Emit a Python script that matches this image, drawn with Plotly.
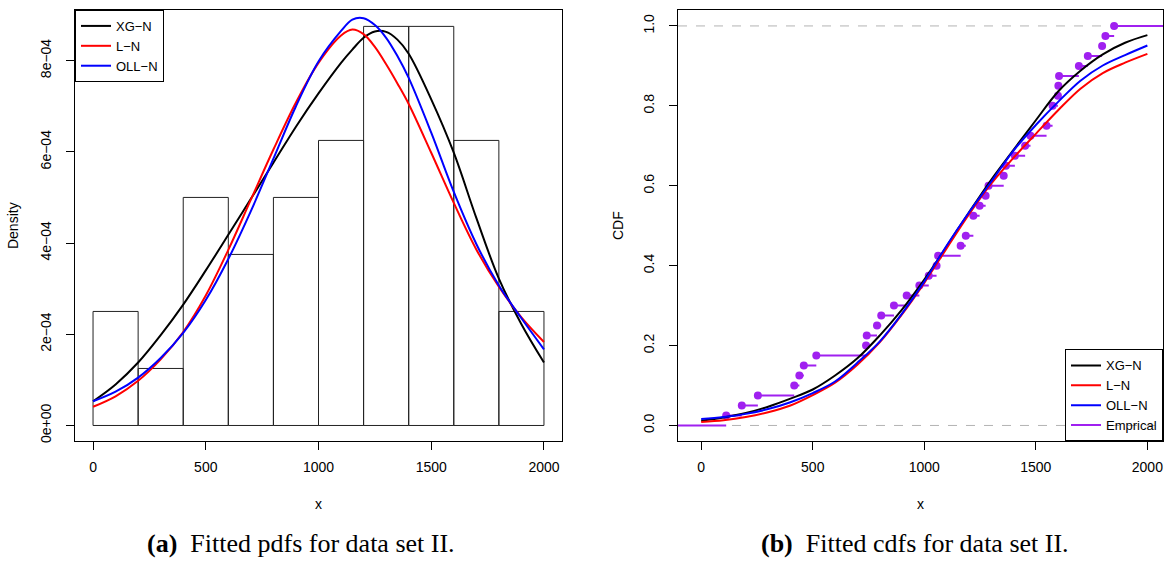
import numpy as np
import plotly.graph_objects as go
from plotly.subplots import make_subplots

# ---------------- data ----------------
# histogram (data set II), bins of width 200
bin_left = [0, 200, 400, 600, 800, 1000, 1200, 1400, 1600, 1800]
bin_width = 200
hist_density = [2.5e-4, 1.25e-4, 5.0e-4, 3.75e-4, 5.0e-4, 6.25e-4, 8.75e-4, 8.75e-4, 6.25e-4, 2.5e-4]

# fitted pdf curves, in units of 1e-4
pdf_x = [0, 100, 200, 300, 400, 500, 600, 700, 800, 900, 1000, 1100, 1150, 1200, 1250,
         1300, 1350, 1400, 1500, 1600, 1700, 1800, 1900, 2000]
pdf_xgn = [0.53, 0.90, 1.38, 1.98, 2.65, 3.40, 4.18, 4.97, 5.76, 6.55, 7.28, 7.95, 8.24, 8.50, 8.64,
           8.63, 8.46, 8.15, 7.15, 5.98, 4.55, 3.22, 2.22, 1.38]
pdf_ln = [0.41, 0.64, 0.98, 1.45, 2.05, 2.85, 3.85, 4.95, 6.05, 7.08, 7.95, 8.55, 8.68, 8.58, 8.30,
          7.92, 7.50, 7.05, 5.98, 4.88, 3.86, 3.04, 2.37, 1.83]
pdf_olln = [0.53, 0.74, 1.05, 1.48, 2.03, 2.75, 3.65, 4.70, 5.85, 7.00, 7.98, 8.65, 8.90, 8.93, 8.78,
            8.50, 8.10, 7.62, 6.42, 5.12, 3.98, 3.07, 2.35, 1.67]
pdf_scale = 1e-4

# fitted cdf curves
cdf_x = [0, 100, 200, 300, 400, 500, 600, 700, 800, 900, 1000, 1100, 1200, 1300, 1400,
         1500, 1600, 1700, 1800, 1900, 2000]
cdf_xgn = [0.012, 0.020, 0.031, 0.047, 0.067, 0.090, 0.125, 0.168, 0.225, 0.290, 0.365, 0.448,
           0.533, 0.615, 0.690, 0.764, 0.836, 0.888, 0.929, 0.958, 0.977]
cdf_ln = [0.0085, 0.013, 0.021, 0.033, 0.050, 0.076, 0.107, 0.152, 0.208, 0.278, 0.357, 0.443,
          0.528, 0.605, 0.670, 0.730, 0.789, 0.843, 0.882, 0.908, 0.930]
cdf_olln = [0.016, 0.021, 0.029, 0.041, 0.058, 0.081, 0.110, 0.157, 0.210, 0.280, 0.360, 0.450,
            0.533, 0.610, 0.688, 0.752, 0.810, 0.863, 0.901, 0.927, 0.951]

# observations (data set II) for the empirical cdf
obs = [112, 182, 254, 417, 440, 460, 516, 739, 742, 788, 807, 864, 921, 978, 1020, 1055, 1062,
       1163, 1186, 1220, 1220, 1248, 1275, 1288, 1356, 1366, 1406, 1452, 1476, 1548, 1575, 1575,
       1599, 1601, 1604, 1693, 1733, 1797, 1812, 1851]

x_ticks = [0, 500, 1000, 1500, 2000]
pdf_yticks = [0, 2e-4, 4e-4, 6e-4, 8e-4]
pdf_yticktext = ["0e+00", "2e\u221204", "4e\u221204", "6e\u221204", "8e\u221204"]
cdf_yticks = [0.0, 0.2, 0.4, 0.6, 0.8, 1.0]
cdf_yticktext = ["0.0", "0.2", "0.4", "0.6", "0.8", "1.0"]

XLIM1 = [-80, 2080]
YLIM1 = [-3.5e-5, 9.11e-4]
XLIM2 = [-104, 2070]
YLIM2 = [-0.04, 1.04]

# ---------------- figure ----------------
W, H = 1168, 567
FONT = "Liberation Sans, Arial, Helvetica, sans-serif"
PURPLE = "#A020F0"

fig = make_subplots(rows=1, cols=2)

# histogram bars
fig.add_trace(go.Bar(
    x=[b + bin_width / 2 for b in bin_left], y=hist_density, width=bin_width,
    marker=dict(color="rgba(255,255,255,0)", line=dict(color="#222222", width=1)),
    showlegend=False, hoverinfo="skip"), row=1, col=1)

for name, vals, col in [("XG\u2212N", pdf_xgn, "black"), ("L\u2212N", pdf_ln, "red"),
                        ("OLL\u2212N", pdf_olln, "blue")]:
    fig.add_trace(go.Scatter(
        x=pdf_x, y=[v * pdf_scale for v in vals], mode="lines", name=name,
        line=dict(color=col, width=2, shape="spline", smoothing=1.0),
        legend="legend"), row=1, col=1)

# empirical cdf
xs = np.sort(np.array(obs, dtype=float))
ux = np.unique(xs)
Fv = np.array([np.sum(xs <= u) for u in ux]) / len(xs)
seg_x, seg_y = [XLIM2[0], ux[0], None], [0, 0, None]
for i in range(len(ux)):
    nxt = ux[i + 1] if i + 1 < len(ux) else XLIM2[1]
    seg_x += [ux[i], nxt, None]
    seg_y += [Fv[i], Fv[i], None]

# reference dashed lines at 0 and 1
for yv in (0, 1):
    fig.add_trace(go.Scatter(
        x=XLIM2, y=[yv, yv], mode="lines", showlegend=False, hoverinfo="skip",
        line=dict(color="#b3b3b3", width=1, dash="dash")), row=1, col=2)

fig.add_trace(go.Scatter(
    x=seg_x, y=seg_y, mode="lines", name="Emprical",
    line=dict(color=PURPLE, width=2), legend="legend2", showlegend=False), row=1, col=2)
fig.add_trace(go.Scatter(
    x=ux, y=Fv, mode="markers", showlegend=False,
    marker=dict(color=PURPLE, size=8)), row=1, col=2)

for name, vals, col in [("XG\u2212N", cdf_xgn, "black"), ("L\u2212N", cdf_ln, "red"),
                        ("OLL\u2212N", cdf_olln, "blue")]:
    fig.add_trace(go.Scatter(
        x=cdf_x, y=vals, mode="lines", name=name,
        line=dict(color=col, width=2, shape="spline", smoothing=1.0),
        legend="legend2"), row=1, col=2)

# legend entry for empirical (placed last)
fig.add_trace(go.Scatter(
    x=[None], y=[None], mode="lines", name="Emprical",
    line=dict(color=PURPLE, width=2), legend="legend2"), row=1, col=2)

axis_common = dict(showline=True, linecolor="black", linewidth=1, mirror=True,
                   ticks="outside", ticklen=8, tickcolor="black", tickwidth=1,
                   showgrid=False, zeroline=False,
                   tickfont=dict(family=FONT, size=14, color="black"))
TFONT = dict(family=FONT, size=14, color="black")

fig.update_xaxes(domain=[75 / W, 562 / W], range=XLIM1, tickvals=x_ticks, ticklabelstandoff=5,
                 title=dict(text="x", font=TFONT, standoff=24),
                 **axis_common, row=1, col=1)
fig.update_yaxes(domain=[1 - 443 / H, 1 - 10 / H], range=YLIM1, tickvals=pdf_yticks,
                 ticktext=pdf_yticktext, tickangle=-90, ticklabelstandoff=9,
                 title=dict(text="Density", font=TFONT, standoff=16),
                 **axis_common, row=1, col=1)
fig.update_xaxes(domain=[678 / W, 1163 / W], range=XLIM2, tickvals=x_ticks, ticklabelstandoff=5,
                 title=dict(text="x", font=TFONT, standoff=24),
                 **axis_common, row=1, col=2)
fig.update_yaxes(domain=[1 - 443 / H, 1 - 10 / H], range=YLIM2, tickvals=cdf_yticks,
                 ticktext=cdf_yticktext, tickangle=-90, ticklabelstandoff=9,
                 title=dict(text="CDF", font=TFONT, standoff=14),
                 **axis_common, row=1, col=2)

LFONT = dict(family=FONT, size=13, color="black")
fig.update_layout(
    width=W, height=H, margin=dict(l=0, r=0, t=0, b=0),
    paper_bgcolor="white", plot_bgcolor="white",
    barmode="overlay",
    legend=dict(x=75 / W, y=1 - 10 / H, xanchor="left", yanchor="top",
                bgcolor="white", bordercolor="black", borderwidth=1,
                font=LFONT, tracegroupgap=0, itemwidth=30),
    legend2=dict(x=1163 / W, y=1 - 443 / H, xanchor="right", yanchor="bottom",
                 bgcolor="rgba(255,255,255,0)", bordercolor="black", borderwidth=1,
                 font=LFONT, tracegroupgap=0, itemwidth=30),
    font=dict(family=FONT, size=14, color="black"),
)

CAP_FONT = dict(family="Liberation Serif, DejaVu Serif, serif", size=26, color="black")
fig.add_annotation(x=301 / W, y=1 - 545 / H, xref="paper", yref="paper", showarrow=False,
                   xanchor="center", yanchor="middle",
                   text="<b>(a)</b>&nbsp;&nbsp;Fitted pdfs for data set II.", font=CAP_FONT)
fig.add_annotation(x=915 / W, y=1 - 545 / H, xref="paper", yref="paper", showarrow=False,
                   xanchor="center", yanchor="middle",
                   text="<b>(b)</b>&nbsp;&nbsp;Fitted cdfs for data set II.", font=CAP_FONT)

fig.write_html("out.html")
